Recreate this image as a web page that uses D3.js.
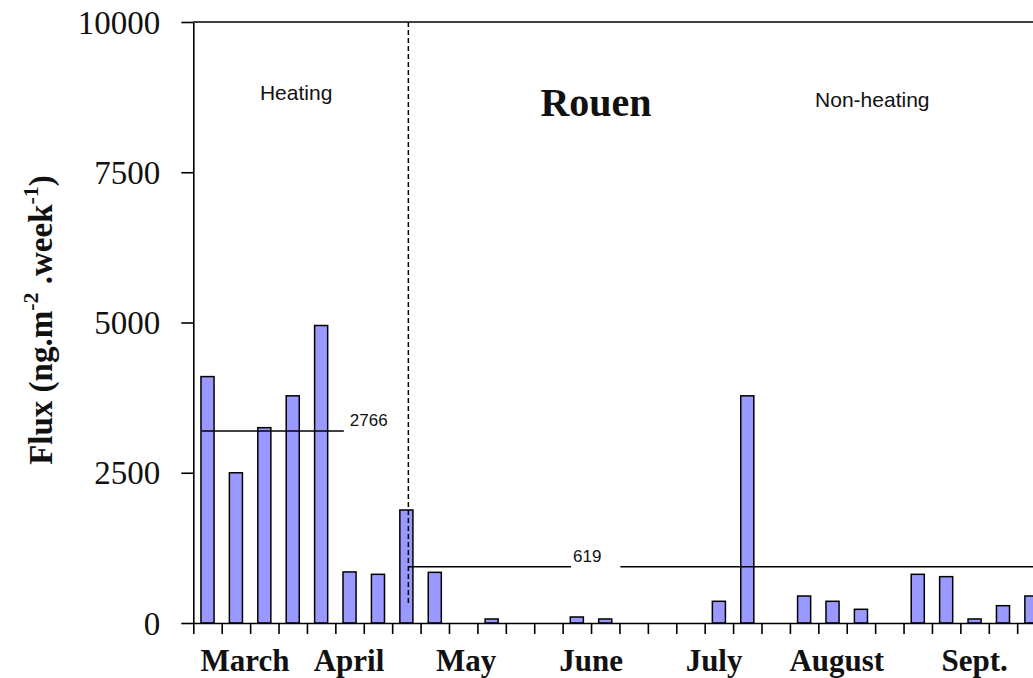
<!DOCTYPE html>
<html>
<head>
<meta charset="utf-8">
<script src="https://cdn.jsdelivr.net/npm/d3@7"></script>
<style>
  html, body { margin: 0; padding: 0; background: #fff; }
  svg { display: block; }
</style>
</head>
<body>
<svg id="chart" width="1033" height="678"></svg>
<script>
// ---- data ----
const weekLabels = ["W1","W2","W3","W4","W5","W6","W7","W8","W9","W10","W11","W12","W13","W14","W15",
                    "W16","W17","W18","W19","W20","W21","W22","W23","W24","W25","W26","W27","W28","W29","W30"];
const fluxValues = [4100, 2500, 3250, 3780, 4950, 850, 810, 1880, 843, 0, 67, 0, 0, 100, 67,
                    0, 0, 0, 361, 3780, 0, 449, 361, 228, 0, 810, 771, 67, 288, 449];
const yTickValues = [0, 2500, 5000, 7500, 10000];
const monthNames = ["March", "April", "May", "June", "July", "August", "Sept."];
const monthCenterWeek = [1.82, 5.48, 9.6, 14.0, 18.33, 22.65, 27.5];
const periodNames = ["Heating", "Non-heating"];
const periodLabelWeek = [3.62, 23.9];
const heatingEndWeek = 7.57;
const meanLabels = ["2766", "619"];
const meanLineLevel = [3195, 937];
const meanLineFromWeek = [0.3, 7.57];
const meanLineToWeek = [5.3, 31];
const titleText = "Rouen";

// ---- layout ----
const svg = d3.select("#chart");
svg.append("rect").attr("width", 1033).attr("height", 678).attr("fill", "#fff");

const x0 = 193.3, step = 28.41, yTop = 22, yBot = 623;
const nWeeks = weekLabels.length;
const weekScale = d3.scaleLinear().domain([0, nWeeks]).range([x0, x0 + nWeeks * step]);
const xBand = d3.scaleBand().domain(weekLabels).range([x0, x0 + nWeeks * step])
  .paddingInner(0.54).paddingOuter(0.27);
const y = d3.scaleLinear().domain([0, 10000]).range([yBot, yTop]);

const barData = weekLabels.map((w, i) => ({ week: w, value: fluxValues[i] })).filter(d => d.value > 0);

// top border
svg.append("line").attr("x1", x0).attr("x2", 1033).attr("y1", y(10000)).attr("y2", y(10000))
  .attr("stroke", "#000").attr("stroke-width", 1.6);

// bars
svg.append("g").selectAll("rect").data(barData).join("rect")
  .attr("x", d => xBand(d.week))
  .attr("y", d => y(d.value))
  .attr("width", xBand.bandwidth())
  .attr("height", d => yBot - y(d.value))
  .attr("fill", "#9999ff")
  .attr("stroke", "#000")
  .attr("stroke-width", 1.5);

// y axis
const yAxis = svg.append("g").attr("transform", `translate(${x0},0)`)
  .call(d3.axisLeft(y).tickValues(yTickValues).tickFormat(d3.format("d"))
    .tickSize(12).tickSizeOuter(0).tickPadding(21));
yAxis.select(".domain").attr("stroke", "#000").attr("stroke-width", 1.6);
yAxis.selectAll(".tick line").attr("stroke", "#000").attr("stroke-width", 1.6);
yAxis.selectAll(".tick text")
  .attr("font-family", "'Liberation Serif', 'Times New Roman', serif")
  .attr("font-size", 33).attr("fill", "#111").attr("dy", "0.34em");

// x axis
const xAxis = svg.append("g").attr("transform", `translate(0,${yBot})`)
  .call(d3.axisBottom(weekScale).tickValues(d3.range(0, nWeeks + 1)).tickFormat("").tickSize(11).tickSizeOuter(0));
xAxis.select(".domain").attr("stroke", "#000").attr("stroke-width", 1.6);
xAxis.selectAll(".tick line").attr("stroke", "#000").attr("stroke-width", 1.6);

// month labels
svg.append("g").selectAll("text").data(monthNames).join("text")
  .attr("x", (d, i) => weekScale(monthCenterWeek[i]))
  .attr("y", 671)
  .attr("text-anchor", "middle")
  .attr("font-family", "'Liberation Serif', 'Times New Roman', serif")
  .attr("font-weight", "bold")
  .attr("font-size", 31)
  .attr("fill", "#111")
  .text(d => d);

// dashed period separator
svg.append("line")
  .attr("x1", weekScale(heatingEndWeek)).attr("x2", weekScale(heatingEndWeek))
  .attr("y1", y(10000)).attr("y2", 605)
  .attr("stroke", "#000").attr("stroke-width", 1.5).attr("stroke-dasharray", "5,3");

// mean lines and labels
meanLabels.forEach((lab, i) => {
  const ly = y(meanLineLevel[i]);
  const xa = weekScale(meanLineFromWeek[i]);
  const xb = Math.min(1033, weekScale(meanLineToWeek[i]));
  if (i === 0) {
    svg.append("line").attr("x1", xa).attr("x2", xb).attr("y1", ly).attr("y2", ly)
      .attr("stroke", "#000").attr("stroke-width", 1.5);
    svg.append("text").attr("x", xb + 6).attr("y", ly - 5)
      .attr("font-family", "'Liberation Sans', Arial, sans-serif").attr("font-size", 17)
      .attr("fill", "#111").text(lab);
  } else {
    const tx = 573;
    const t = svg.append("text").attr("x", tx).attr("y", ly - 5)
      .attr("font-family", "'Liberation Sans', Arial, sans-serif").attr("font-size", 17)
      .attr("fill", "#111").text(lab);
    const w = t.node().getComputedTextLength();
    svg.append("line").attr("x1", xa).attr("x2", tx - 2).attr("y1", ly).attr("y2", ly)
      .attr("stroke", "#000").attr("stroke-width", 1.5);
    svg.append("line").attr("x1", tx + w + 19).attr("x2", xb).attr("y1", ly).attr("y2", ly)
      .attr("stroke", "#000").attr("stroke-width", 1.5);
  }
});

// period labels
svg.append("g").selectAll("text").data(periodNames).join("text")
  .attr("x", (d, i) => weekScale(periodLabelWeek[i]))
  .attr("y", (d, i) => i === 0 ? 100 : 107)
  .attr("text-anchor", "middle")
  .attr("font-family", "'Liberation Sans', Arial, sans-serif")
  .attr("font-size", 21)
  .attr("fill", "#111")
  .text(d => d);

// title
svg.append("text").attr("x", 596).attr("y", 116).attr("text-anchor", "middle")
  .attr("font-family", "'Liberation Serif', 'Times New Roman', serif")
  .attr("font-weight", "bold").attr("font-size", 40).attr("fill", "#111")
  .text(titleText);

// y axis title
const yt = svg.append("text")
  .attr("transform", "translate(52,320) rotate(-90)")
  .attr("text-anchor", "middle")
  .attr("font-family", "'Liberation Serif', 'Times New Roman', serif")
  .attr("font-weight", "bold").attr("font-size", 33).attr("fill", "#111");
yt.append("tspan").text("Flux (ng.m");
yt.append("tspan").attr("dy", -14).attr("font-size", 22).text("-2");
yt.append("tspan").attr("dy", 14).text(" .week");
yt.append("tspan").attr("dy", -14).attr("font-size", 22).text("-1");
yt.append("tspan").attr("dy", 14).text(")");
</script>
</body>
</html>
